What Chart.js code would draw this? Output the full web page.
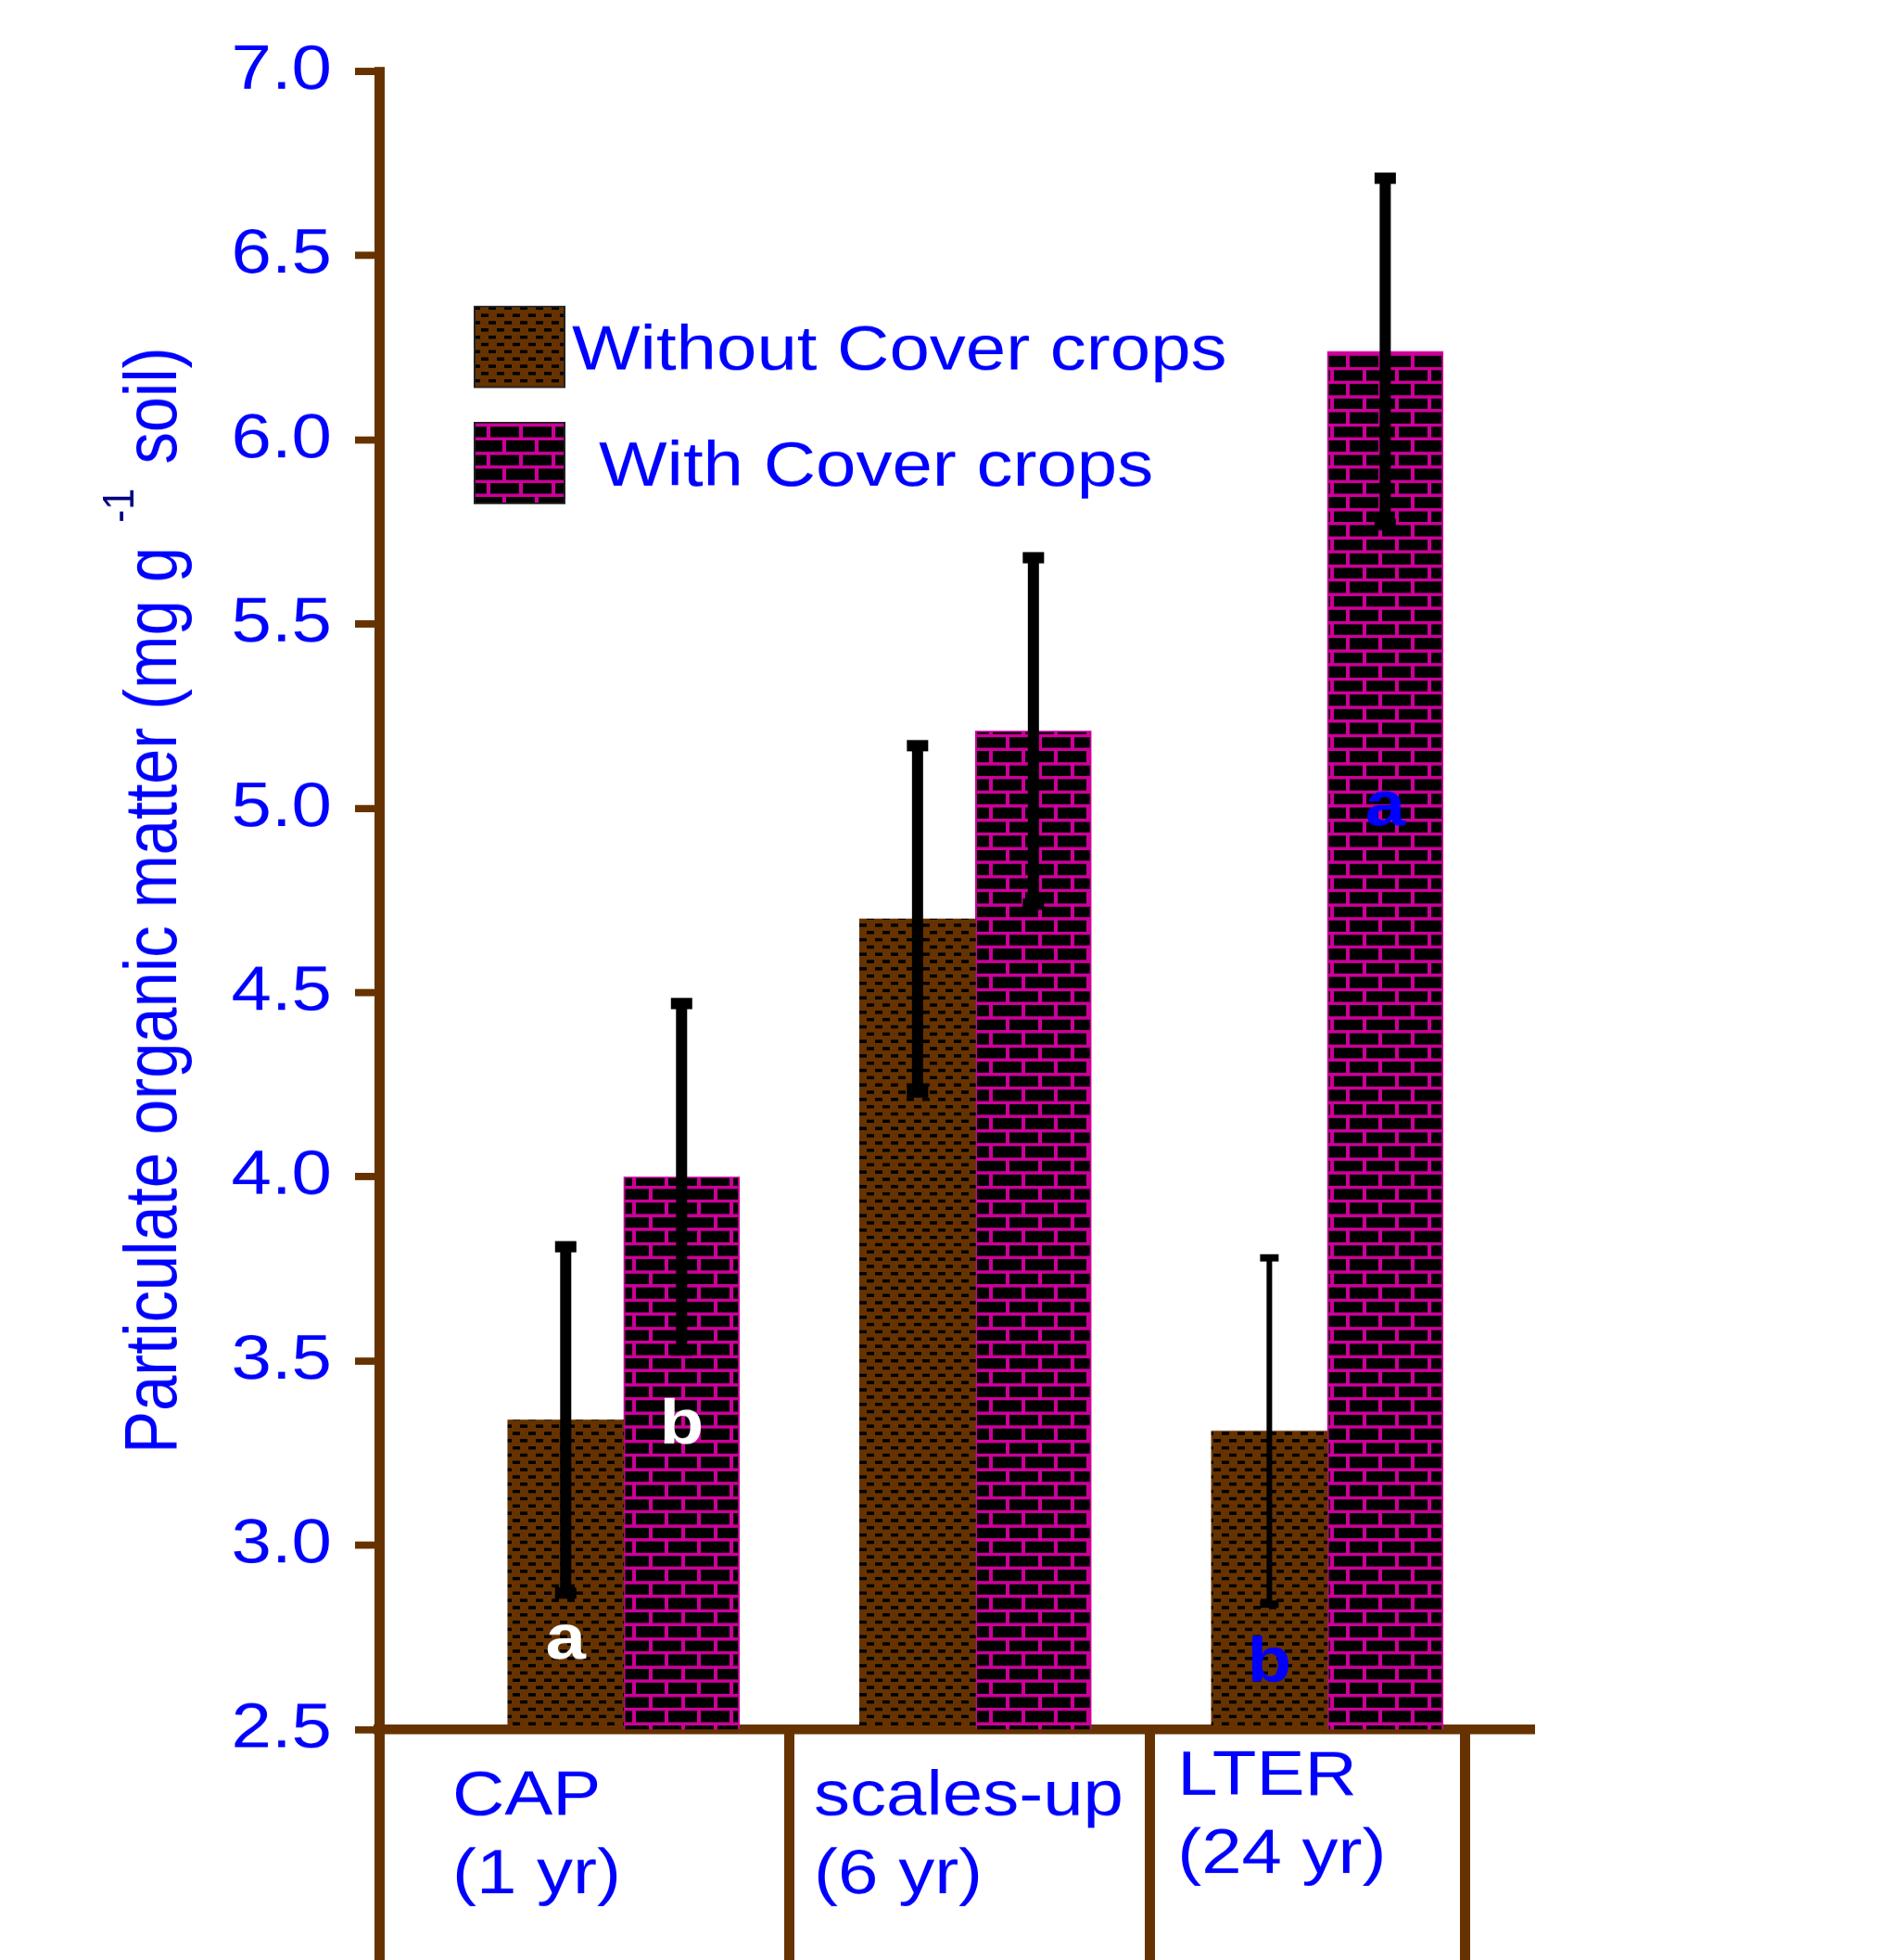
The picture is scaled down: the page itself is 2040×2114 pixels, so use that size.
<!DOCTYPE html>
<html>
<head>
<meta charset="utf-8">
<script src="https://cdn.jsdelivr.net/npm/chart.js@4.4.0/dist/chart.umd.min.js"></script>
<style>
  html, body { margin: 0; padding: 0; background: #ffffff; overflow: hidden; }
  #wrap { width: 2040px; height: 2430px; transform: scaleY(0.87); transform-origin: 0 0; }
  canvas { display: block; }
</style>
</head>
<body>
<div id="wrap"><canvas id="chart" width="2040" height="2430"></canvas></div>
<script>
// ---------------- data ----------------
const categories = [['CAP', '(1 yr)'], ['scales-up', '(6 yr)'], ['LTER', '(24 yr)']];
const seriesNames = ['Without Cover crops', 'With Cover crops'];
const withoutCC = [3.34, 4.70, 3.31];
const withCC = [4.00, 5.21, 6.24];
const withoutErr = [0.47, 0.47, 0.47];
const withErr = [0.47, 0.47, 0.47];
const withoutLetters = ['a', '', 'b'];
const withLetters = ['b', '', 'a'];
const yTickValues = [2.5, 3.0, 3.5, 4.0, 4.5, 5.0, 5.5, 6.0, 6.5, 7.0];
const yTickLabels = ['2.5', '3.0', '3.5', '4.0', '4.5', '5.0', '5.5', '6.0', '6.5', '7.0'];
const yTitleParts = ['Particulate organic matter (mg g', '-1', 'soil)'];

// ---------------- styling / layout ----------------
const FONT = '"Liberation Sans", Arial, Helvetica, sans-serif';
const BLUE = '#0000FF';
const BROWN = '#663300';
const MAGENTA = '#CC0099';
const X_MIN = -0.695, X_MAX = 2.576;
const separatorValues = [X_MIN, 0.472, 1.495, 2.391];
Chart.defaults.font.family = FONT;

function makeBrownPattern(ctx) {
  const c = document.createElement('canvas');
  c.width = 17; c.height = 18;
  const g = c.getContext('2d');
  g.fillStyle = BROWN; g.fillRect(0, 0, 17, 18);
  g.fillStyle = '#000000';
  g.fillRect(0, 2, 8, 4);
  g.fillRect(9, 11, 8, 4);
  return ctx.createPattern(c, 'repeat');
}
function makeBrickPattern(ctx) {
  const c = document.createElement('canvas');
  c.width = 35; c.height = 35;
  const g = c.getContext('2d');
  g.fillStyle = '#000000'; g.fillRect(0, 0, 35, 35);
  g.fillStyle = MAGENTA;
  g.fillRect(0, 0, 35, 4);
  g.fillRect(0, 17, 35, 4);
  g.fillRect(0, 0, 4, 18);
  g.fillRect(17, 17, 4, 18);
  return ctx.createPattern(c, 'repeat');
}

const canvas = document.getElementById('chart');
const ctx = canvas.getContext('2d');
const brown = makeBrownPattern(ctx);
const brick = makeBrickPattern(ctx);

// error bars
const errorBarPlugin = {
  id: 'errorBars',
  afterDatasetsDraw(chart, args, o) {
    const c = chart.ctx, y = chart.scales.y;
    chart.data.datasets.forEach((ds, di) => {
      const meta = chart.getDatasetMeta(di);
      meta.data.forEach((bar, i) => {
        const v = ds.data[i].y, e = ds.errors[i];
        const lw = o.lineWidths[di][i], cw = o.capWidths[di][i], ch = o.capHeights[di][i];
        const yt = y.getPixelForValue(v + e), yb = y.getPixelForValue(v - e);
        c.save();
        c.fillStyle = '#000000';
        c.fillRect(bar.x - lw / 2, yt, lw, yb - yt);
        c.fillRect(bar.x - cw / 2, yt - ch / 2, cw, ch);
        c.fillRect(bar.x - cw / 2, yb - ch / 2, cw, ch);
        c.restore();
      });
    });
  }
};

// significance letters
const lettersPlugin = {
  id: 'letters',
  afterDatasetsDraw(chart, args, o) {
    const c = chart.ctx, y = chart.scales.y;
    chart.data.datasets.forEach((ds, di) => {
      const meta = chart.getDatasetMeta(di);
      meta.data.forEach((bar, i) => {
        const t = ds.letters[i];
        const at = o.at[di][i];
        if (!t || at == null) return;
        c.save();
        c.font = 'bold ' + o.size + 'px ' + FONT;
        c.fillStyle = o.colors[di][i];
        c.textAlign = 'center';
        c.textBaseline = 'alphabetic';
        const m = c.measureText(t);
        const cy = y.getPixelForValue(at);
        c.fillText(t, bar.x, cy + (m.actualBoundingBoxAscent - m.actualBoundingBoxDescent) / 2);
        c.restore();
      });
    });
  }
};

// legend inside plot
const legendPlugin = {
  id: 'insideLegend',
  afterDraw(chart, args, o) {
    const c = chart.ctx;
    chart.data.datasets.forEach((ds, di) => {
      const r = o.rows[di];
      c.save();
      c.fillStyle = ds.backgroundColor;
      c.fillRect(o.boxX, r.y, o.boxW, o.boxH);
      c.strokeStyle = '#222222';
      c.lineWidth = 2;
      c.strokeRect(o.boxX, r.y, o.boxW, o.boxH);
      c.font = o.size + 'px ' + FONT;
      c.fillStyle = BLUE;
      c.textAlign = 'left';
      c.textBaseline = 'alphabetic';
      c.fillText(ds.label, r.textX, r.y + o.boxH / 2 + o.size * 0.358);
      c.restore();
    });
  }
};

// category labels below the axis
const xLabelPlugin = {
  id: 'xLabels',
  afterDraw(chart, args, o) {
    const c = chart.ctx, x = chart.scales.x, area = chart.chartArea;
    c.save();
    c.font = o.size + 'px ' + FONT;
    c.fillStyle = BLUE;
    c.textAlign = 'left';
    c.textBaseline = 'alphabetic';
    categories.forEach((lines, i) => {
      const px = x.getPixelForValue(o.anchors[i]);
      lines.forEach((ln, k) => {
        c.fillText(ln, px, area.bottom + o.baselines[i] + k * o.lineGap);
      });
    });
    c.restore();
  }
};

// rotated y title with superscript
const yTitlePlugin = {
  id: 'yTitle',
  afterDraw(chart, args, o) {
    const c = chart.ctx, area = chart.chartArea;
    const cy = (area.top + area.bottom) / 2;
    const mainFont = o.size + 'px ' + FONT;
    const supFont = o.supSize + 'px ' + FONT;
    c.save();
    c.translate(o.x, cy);
    c.rotate(-Math.PI / 2);
    c.textAlign = 'left';
    c.textBaseline = 'alphabetic';
    c.font = mainFont;
    const w1 = c.measureText(yTitleParts[0]).width;
    const w3 = c.measureText(yTitleParts[2]).width;
    c.font = supFont;
    const w2 = c.measureText(yTitleParts[1]).width;
    const total = w1 + o.gap + w2 + o.gap + w3;
    const base = o.size * 0.358;
    let u = -total / 2;
    c.font = mainFont; c.fillStyle = BLUE;
    c.fillText(yTitleParts[0], u, base);
    u += w1 + o.gap;
    c.font = supFont; c.fillStyle = o.supColor;
    c.fillText(yTitleParts[1], u, base - o.supRaise);
    u += w2 + o.gap;
    c.font = mainFont; c.fillStyle = BLUE;
    c.fillText(yTitleParts[2], u, base);
    c.restore();
  }
};

new Chart(ctx, {
  type: 'bar',
  data: {
    datasets: [
      {
        label: seriesNames[0],
        data: withoutCC.map((v, i) => ({ x: i, y: v })),
        errors: withoutErr,
        letters: withoutLetters,
        backgroundColor: brown,
        borderWidth: 0
      },
      {
        label: seriesNames[1],
        data: withCC.map((v, i) => ({ x: i, y: v })),
        errors: withErr,
        letters: withLetters,
        backgroundColor: brick,
        borderColor: MAGENTA,
        borderWidth: 2
      }
    ]
  },
  options: {
    responsive: false,
    animation: false,
    devicePixelRatio: 1,
    layout: { padding: { top: 88.5, left: 0, right: 389.5, bottom: 0 } },
    datasets: { bar: { barThickness: 125, grouped: true } },
    plugins: {
      legend: { display: false },
      tooltip: { enabled: false },
      errorBars: {
        lineWidths: [[12, 12, 6], [12, 12, 12]],
        capWidths: [[23, 23, 20], [23, 23, 23]],
        capHeights: [[14, 14, 9], [14, 14, 14]]
      },
      letters: {
        size: 78,
        at: [[2.737, null, 2.69], [3.337, null, 5.0]],
        colors: [['#FFFFFF', null, BLUE], ['#FFFFFF', null, BLUE]]
      },
      insideLegend: {
        size: 78, boxX: 512, boxW: 97, boxH: 100,
        rows: [{ y: 380, textX: 617 }, { y: 524, textX: 646 }]
      },
      xLabels: {
        size: 78,
        anchors: [-0.487, 0.541, 1.574],
        baselines: [106, 106, 81],
        lineGap: 97
      },
      yTitle: { x: 162, size: 79, supSize: 48, supRaise: 46, gap: 30, supColor: '#000080' }
    },
    scales: {
      x: {
        type: 'linear',
        min: X_MIN,
        max: X_MAX,
        bounds: 'data',
        offset: false,
        afterBuildTicks: (s) => { s.ticks = separatorValues.map(v => ({ value: v })); },
        afterFit: (s) => { s.height = 286; },
        ticks: { display: false },
        grid: { display: true, offset: false, drawOnChartArea: false, drawTicks: true, tickLength: 330, color: BROWN, lineWidth: 11 },
        border: { display: true, color: BROWN, width: 12 }
      },
      y: {
        type: 'linear',
        min: 2.5,
        max: 7.0,
        afterBuildTicks: (s) => { s.ticks = yTickValues.map(v => ({ value: v })); },
        afterFit: (s) => { s.width = 409; },
        ticks: {
          callback: (v, i) => yTickLabels[i],
          color: BLUE,
          font: { family: FONT, size: 78 },
          padding: 25
        },
        grid: { display: true, drawOnChartArea: false, drawTicks: true, tickLength: 26, color: BROWN, lineWidth: 9 },
        border: { display: true, color: BROWN, width: 11 },
        title: { display: false }
      }
    }
  },
  plugins: [errorBarPlugin, lettersPlugin, legendPlugin, xLabelPlugin, yTitlePlugin]
});
</script>
</body>
</html>
